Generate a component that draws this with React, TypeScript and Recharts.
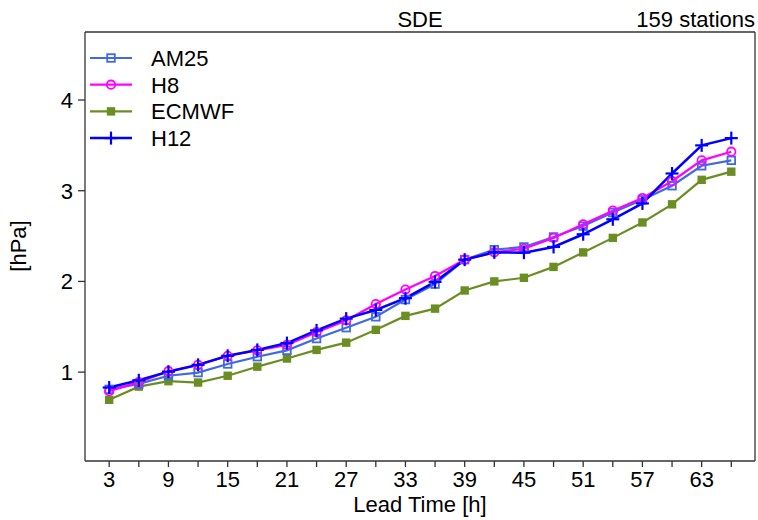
import { LineChart, Line, XAxis, YAxis } from 'recharts';

const leadTimes = [3, 6, 9, 12, 15, 18, 21, 24, 27, 30, 33, 36, 39, 42, 45, 48, 51, 54, 57, 60, 63, 66];
const xTickLabels = [3, 9, 15, 21, 27, 33, 39, 45, 51, 57, 63];
const yTicks = [1, 2, 3, 4];

const am25 = [0.81, 0.87, 0.96, 0.995, 1.09, 1.17, 1.24, 1.37, 1.49, 1.61, 1.8, 1.97, 2.24, 2.35, 2.38, 2.49, 2.61, 2.76, 2.9, 3.055, 3.275, 3.335];
const h8 = [0.79, 0.89, 1.01, 1.08, 1.18, 1.24, 1.3, 1.44, 1.57, 1.75, 1.91, 2.06, 2.24, 2.32, 2.36, 2.48, 2.63, 2.78, 2.92, 3.105, 3.335, 3.43];
const ecmwf = [0.695, 0.84, 0.9, 0.885, 0.96, 1.06, 1.15, 1.245, 1.325, 1.466, 1.62, 1.7, 1.9, 2.0, 2.04, 2.16, 2.32, 2.48, 2.65, 2.85, 3.12, 3.21];
const h12 = [0.83, 0.91, 1.005, 1.08, 1.18, 1.245, 1.32, 1.46, 1.59, 1.685, 1.815, 1.995, 2.24, 2.32, 2.317, 2.38, 2.52, 2.685, 2.86, 3.19, 3.5, 3.58];

const FONT = '"Liberation Sans", Arial, sans-serif';
const FS = 22;

// plot frame (matches chart margins / axis sizes below)
const W = 758;
const H = 520;
const LEFT = 85;
const RIGHT = W - 3;
const TOP = 32;
const BOTTOM = H - 59;

const data = leadTimes.map((t, i) => ({
  t,
  AM25: am25[i],
  H8: h8[i],
  ECMWF: ecmwf[i],
  H12: h12[i],
}));

type Marker = 'openSquare' | 'openCircle' | 'square' | 'plus';

const series: { key: string; color: string; width: number; marker: Marker }[] = [
  { key: 'AM25', color: '#4169E1', width: 2.2, marker: 'openSquare' },
  { key: 'H8', color: '#FF00FF', width: 2.2, marker: 'openCircle' },
  { key: 'ECMWF', color: '#6B8E23', width: 2.2, marker: 'square' },
  { key: 'H12', color: '#0000FF', width: 2.5, marker: 'plus' },
];

// draw order: ECMWF first, H12 last (on top)
const drawOrder = ['ECMWF', 'AM25', 'H8', 'H12'];

function markerShape(marker: Marker, cx: number, cy: number, color: string, key?: string) {
  switch (marker) {
    case 'openSquare':
      return <rect key={key} x={cx - 3.8} y={cy - 3.8} width={7.6} height={7.6} fill="none" stroke={color} strokeWidth={1.8} />;
    case 'openCircle':
      return <circle key={key} cx={cx} cy={cy} r={4.2} fill="none" stroke={color} strokeWidth={1.8} />;
    case 'square':
      return <rect key={key} x={cx - 4.2} y={cy - 4.2} width={8.4} height={8.4} fill={color} stroke="none" />;
    case 'plus':
      return (
        <g key={key}>
          <line x1={cx - 6.5} y1={cy} x2={cx + 6.5} y2={cy} stroke={color} strokeWidth={2.2} />
          <line x1={cx} y1={cy - 6.5} x2={cx} y2={cy + 6.5} stroke={color} strokeWidth={2.2} />
        </g>
      );
  }
}

export default function App() {
  return (
    <div style={{ position: 'absolute', left: 0, top: 0, width: W, height: H, background: '#fff', fontFamily: FONT }}>
      <LineChart width={W} height={H} data={data} margin={{ top: TOP, right: W - RIGHT, bottom: 0, left: 0 }}>
        <XAxis
          dataKey="t"
          type="number"
          domain={[0.55, 68.4]}
          ticks={leadTimes}
          interval={0}
          allowDataOverflow
          tickFormatter={(v: number) => (xTickLabels.includes(v) ? String(v) : '')}
          height={H - BOTTOM}
          tickSize={6}
          tickMargin={4}
          stroke="#333"
          strokeWidth={1.3}
          tick={{ fill: '#000', fontSize: FS, fontFamily: FONT }}
          label={{ value: 'Lead Time [h]', position: 'insideBottom', offset: 8, fill: '#000', fontSize: FS, fontFamily: FONT }}
        />
        <YAxis
          type="number"
          domain={[0.02, 4.75]}
          ticks={yTicks}
          allowDataOverflow
          width={LEFT}
          tickSize={7}
          tickMargin={5}
          stroke="#333"
          strokeWidth={1.3}
          tick={{ fill: '#000', fontSize: FS, fontFamily: FONT }}
        />
        {drawOrder.map((k) => {
          const s = series.find((x) => x.key === k)!;
          return (
            <Line
              key={s.key}
              dataKey={s.key}
              stroke={s.color}
              strokeWidth={s.width}
              isAnimationActive={false}
              dot={(p: any) => markerShape(s.marker, p.cx, p.cy, s.color, `${s.key}-${p.index}`)}
              activeDot={false}
            />
          );
        })}
      </LineChart>
      <svg width={W} height={H} style={{ position: 'absolute', left: 0, top: 0, pointerEvents: 'none' }}>
        {/* top and right frame lines */}
        <line x1={LEFT} y1={TOP} x2={RIGHT} y2={TOP} stroke="#333" strokeWidth={1.3} />
        <line x1={RIGHT} y1={TOP} x2={RIGHT} y2={BOTTOM} stroke="#333" strokeWidth={1.3} />
        <text x={420} y={27} textAnchor="middle" fontSize={FS} fontFamily={FONT} fill="#000">SDE</text>
        <text x={755} y={27} textAnchor="end" fontSize={FS} fontFamily={FONT} fill="#000">159 stations</text>
        <text x={26} y={246} textAnchor="middle" fontSize={FS} fontFamily={FONT} fill="#000" transform="rotate(-90 26 246)">[hPa]</text>
        {series.map((s, i) => {
          const y = 58 + i * 26.7;
          return (
            <g key={s.key}>
              <line x1={90} y1={y} x2={132} y2={y} stroke={s.color} strokeWidth={s.width} />
              {markerShape(s.marker, 111, y, s.color)}
              <text x={151} y={y + 8} fontSize={FS} fontFamily={FONT} fill="#000">
                {s.key}
              </text>
            </g>
          );
        })}
      </svg>
    </div>
  );
}
